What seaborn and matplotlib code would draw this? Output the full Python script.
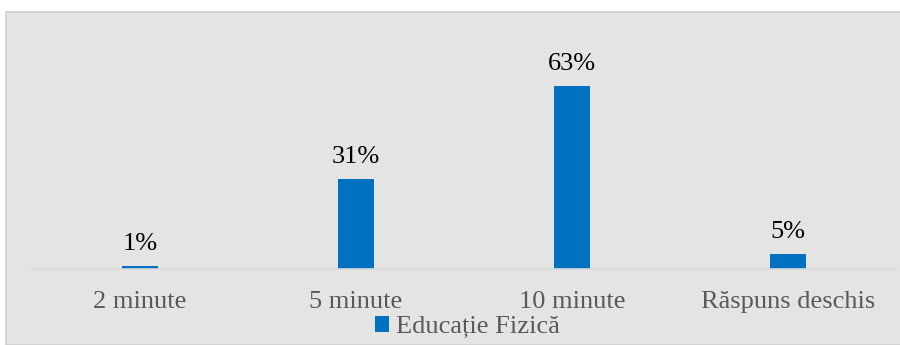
import matplotlib
matplotlib.use("Agg")
import matplotlib.pyplot as plt
import seaborn as sns
import pandas as pd
from matplotlib.patches import Rectangle

categories = ["2 minute", "5 minute", "10 minute", "Răspuns deschis"]
values = [1, 31, 63, 5]
labels = ["1%", "31%", "63%", "5%"]
series_name = "Educație Fizică"

sns.set_theme(style="white")
plt.rcParams['font.family'] = ['Liberation Serif', 'DejaVu Serif']

W, H = 900, 345
FS = 19
fig = plt.figure(figsize=(W / 100, H / 100), dpi=100)
fig.patch.set_facecolor("white")
bg = Rectangle((6 / W, 0), 1 - 6 / W + 0.01, (H - 12) / H, transform=fig.transFigure,
               facecolor="#E4E4E4", edgecolor="#CFCFCF", linewidth=1.2, zorder=-10)
fig.patches.append(bg)

ax = fig.add_axes([32 / W, (H - 269) / H, 864 / W, (269 - 20) / H])
ax.set_facecolor("none")
ax.set_zorder(1)

df = pd.DataFrame({"cat": categories, "val": values, "series": series_name})
sns.barplot(data=df, x="cat", y="val", hue="series", palette=["#0070C0"],
            width=0.1667, saturation=1, linewidth=0, edgecolor="none",
            ax=ax, legend=False)

ax.set_xlim(-0.5, 3.5)
ax.set_ylim(0, 85.6)
for i, (v, lab) in enumerate(zip(values, labels)):
    ax.annotate(lab, (i, v), xytext=(0, 8), textcoords="offset points",
                ha="center", va="bottom", fontsize=FS, color="#000000")

ax.set_xlabel("")
ax.set_ylabel("")
ax.set_yticks([])
ax.tick_params(axis="x", length=0, pad=16, labelsize=FS, labelcolor="#595959")
for s in ["top", "left", "right"]:
    ax.spines[s].set_visible(False)
ax.spines["bottom"].set_color("#D9D9D9")
ax.spines["bottom"].set_linewidth(1.2)

handle = Rectangle((0, 0), 1, 1, facecolor="#0070C0", edgecolor="none")
fig.legend([handle], [series_name], loc="center", bbox_to_anchor=(467 / W, 1 - 327 / H),
           frameon=False, fontsize=FS, labelcolor="#595959",
           handlelength=0.55, handleheight=0.55, handletextpad=0.25, borderpad=0)

fig.savefig("out.png", dpi=100)
